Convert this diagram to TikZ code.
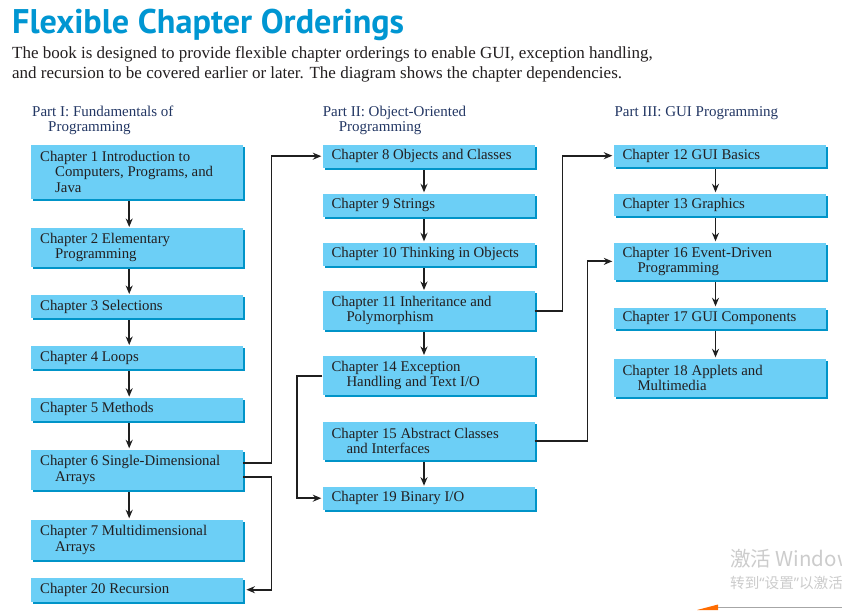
\documentclass[tikz,border=0pt]{standalone}
\usepackage{fontspec}
\setmainfont{Liberation Serif}
\newfontfamily\titlefont{PT Sans}
\newfontfamily\cjkfont{Noto Sans CJK SC}
\newfontfamily\latinq{Noto Sans}
\usetikzlibrary{arrows.meta,shadows}
\definecolor{boxfill}{RGB}{108,207,246}
\definecolor{boxshadow}{RGB}{0,148,200}
\definecolor{titleblue}{RGB}{0,150,210}
\definecolor{partcol}{RGB}{35,55,100}
\definecolor{bodycol}{RGB}{35,31,32}
\newcommand\chind{\hspace*{15pt}}
\begin{document}
\begin{tikzpicture}[x=1pt,y=-1pt,
  chbox/.style={fill=boxfill, drop shadow={shadow xshift=2pt, shadow yshift=-2pt, fill=boxshadow, opacity=1},
    anchor=north west, text width=194pt, inner xsep=9pt, inner ysep=0pt, align=left,
    font=\fontsize{14.8}{15.5}\selectfont, text=bodycol,
    execute at begin node={\spaceskip=0pt\xspaceskip=0pt\relax}},
  partlabel/.style={anchor=north west, inner sep=0pt, align=left, text=partcol, font=\fontsize{15}{15}\selectfont,
    execute at begin node={\spaceskip=0pt\xspaceskip=0pt\relax}},
  bodytext/.style={anchor=base west, inner sep=0pt, text=bodycol, font=\fontsize{17}{17}\selectfont},
  arr/.style={draw=black!88, line width=1.8pt, -{Stealth[length=8.5pt,width=7pt]}}]
\useasboundingbox[fill=white] (0,0) rectangle (842,610);

% title and intro
\node[anchor=base west, inner sep=0pt, text=titleblue, font=\titlefont\bfseries\fontsize{34.2}{34.2}\selectfont] (title) at (12,33.3) {Flexible Chapter Orderings};
\node[bodytext] (body1) at (12,58.5) {The book is designed to provide flexible chapter orderings to enable GUI, exception handling,};
\node[bodytext] (body2) at (12,78.3) {and recursion to be covered earlier or later. The diagram shows the chapter dependencies.};

% part labels
\node[partlabel] (p1) at (32,106) {Part I: Fundamentals of\\\hspace*{16pt}Programming};
\node[partlabel] (p2) at (322.7,106) {Part II: Object-Oriented\\\hspace*{16pt}Programming};
\node[partlabel] (p3) at (614.3,106) {Part III: GUI Programming};

% column 1
\node[chbox, minimum height=54.7pt] (c1) at (31,144.3) {Chapter 1 Introduction to\\\chind Computers, Programs, and\\\chind Java};
\node[chbox, minimum height=38.7pt] (c2) at (31,228) {Chapter 2 Elementary\\\chind Programming};
\node[chbox, minimum height=23pt] (c3) at (31,295) {Chapter 3 Selections};
\node[chbox, minimum height=23pt] (c4) at (31,346) {Chapter 4 Loops};
\node[chbox, minimum height=23pt] (c5) at (31,397.7) {Chapter 5 Methods};
\node[chbox, minimum height=40.7pt] (c6) at (31,449.3) {Chapter 6 Single-Dimensional\\\chind Arrays};
\node[chbox, minimum height=40.7pt] (c7) at (31,519.3) {Chapter 7 Multidimensional\\\chind Arrays};
\node[chbox, minimum height=24.4pt] (c20) at (31,577.3) {Chapter 20 Recursion};

% column 2
\node[chbox, minimum height=23.4pt] (c8) at (322.3,144.3) {Chapter 8 Objects and Classes};
\node[chbox, minimum height=23.4pt] (c9) at (322.3,193.3) {Chapter 9 Strings};
\node[chbox, minimum height=23.4pt] (c10) at (322.3,242.3) {Chapter 10 Thinking in Objects};
\node[chbox, minimum height=39pt] (c11) at (322.3,291) {Chapter 11 Inheritance and\\\chind Polymorphism};
\node[chbox, minimum height=39pt] (c14) at (322.3,356) {Chapter 14 Exception\\\chind Handling and Text I/O};
\node[chbox, minimum height=38.3pt] (c15) at (322.3,421.7) {Chapter 15 Abstract Classes\\\chind and Interfaces};
\node[chbox, minimum height=22.6pt] (c19) at (322.3,486.7) {Chapter 19 Binary I/O};

% column 3
\node[chbox, minimum height=22.4pt] (c12) at (613.3,144.3) {Chapter 12 GUI Basics};
\node[chbox, minimum height=22.4pt] (c13) at (613.3,193.3) {Chapter 13 Graphics};
\node[chbox, minimum height=37.7pt] (c16) at (613.3,242.3) {Chapter 16 Event-Driven\\\chind Programming};
\node[chbox, minimum height=21pt] (c17) at (613.3,307.3) {Chapter 17 GUI Components};
\node[chbox, minimum height=38.4pt] (c18) at (613.3,358.3) {Chapter 18 Applets and\\\chind Multimedia};

% vertical arrows
\foreach \a/\b in {c1/c2,c2/c3,c3/c4,c4/c5,c5/c6,c6/c7}
  \draw[arr] ([xshift=-8pt,yshift=-2pt]\a.south) -- ([xshift=-8pt,yshift=1pt]\b.north);
\foreach \a/\b in {c8/c9,c9/c10,c10/c11,c11/c14,c15/c19}
  \draw[arr] ([xshift=-4.5pt,yshift=-2pt]\a.south) -- ([xshift=-4.5pt,yshift=1pt]\b.north);
\foreach \a/\b in {c12/c13,c13/c16,c16/c17,c17/c18}
  \draw[arr] ([xshift=-4pt,yshift=-2pt]\a.south) -- ([xshift=-4pt,yshift=1pt]\b.north);

% cross-column connectors
\draw[arr] ([yshift=7pt]c6.east) -- ++(28,0) |- ([xshift=-1pt]c8.west);
\draw[arr] ([yshift=-7pt]c6.east) -- ++(28,0) |- ([xshift=3pt]c20.east);
\draw[arr] (c14.west) -- ++(-25.3,0) |- ([xshift=-1pt]c19.west);
\draw[arr] (c11.east) -- ++(27.7,0) |- ([xshift=-1pt]c12.west);
\draw[arr] (c15.east) -- ++(52.7,0) |- ([xshift=-1pt]c16.west);

% screen watermark
\node[anchor=base west, inner sep=0pt, text=black!20, font=\cjkfont\fontsize{20.5}{20.5}\selectfont] (wm1) at (730,566.7) {激活 Windows};
\node[anchor=base west, inner sep=0pt, text=black!20, font=\cjkfont\fontsize{14.6}{14.6}\selectfont] (wm2) at (730,588) {转到{\latinq “}设置{\latinq ”}以激活 Windows。};
\fill[orange!85!red] (697,610) -- (718,604.5) -- (718,610) -- cycle;
\draw[black!35, line width=0.8pt] (718,607.5) -- (842,607.5);
\end{tikzpicture}
\end{document}
